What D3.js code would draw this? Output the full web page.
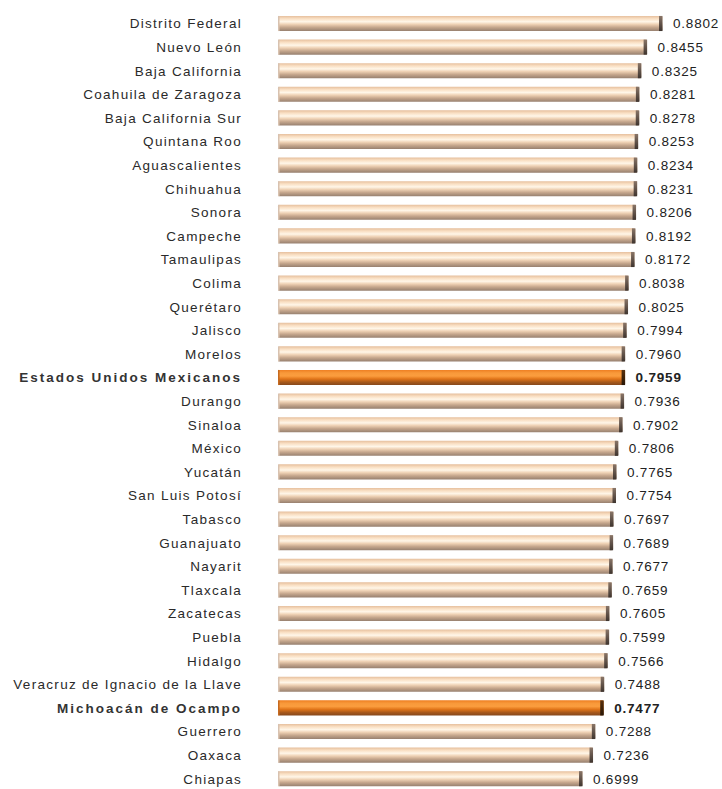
<!DOCTYPE html>
<html>
<head>
<meta charset="utf-8">
<script src="https://cdn.jsdelivr.net/npm/d3@7"></script>
<style>
  body { margin: 0; background: #fff; }
  svg text { font-family: "Liberation Sans", Arial, sans-serif; }
</style>
</head>
<body>
<svg id="container"></svg>
<script>
var states = ["Distrito Federal","Nuevo León","Baja California","Coahuila de Zaragoza","Baja California Sur",
  "Quintana Roo","Aguascalientes","Chihuahua","Sonora","Campeche","Tamaulipas","Colima","Querétaro",
  "Jalisco","Morelos","Estados Unidos Mexicanos","Durango","Sinaloa","México","Yucatán","San Luis Potosí",
  "Tabasco","Guanajuato","Nayarit","Tlaxcala","Zacatecas","Puebla","Hidalgo",
  "Veracruz de Ignacio de la Llave","Michoacán de Ocampo","Guerrero","Oaxaca","Chiapas"];
var values = [0.8802,0.8455,0.8325,0.8281,0.8278,0.8253,0.8234,0.8231,0.8206,0.8192,0.8172,0.8038,0.8025,
  0.7994,0.7960,0.7959,0.7936,0.7902,0.7806,0.7765,0.7754,0.7697,0.7689,0.7677,0.7659,0.7605,0.7599,
  0.7566,0.7488,0.7477,0.7288,0.7236,0.6999];
var highlighted = ["Estados Unidos Mexicanos","Michoacán de Ocampo"];

var data = states.map((s, i) => ({name: s, value: values[i], hi: highlighted.indexOf(s) >= 0}));

const W = 722, H = 789;
var svg = d3.select("#container").attr("width", W).attr("height", H);

// scales (bars are drawn from the left edge of the plot area)
var x = d3.scaleLinear().domain([0, 0.8802]).range([272, 662.5]);
var plotLeft = 278;
var y = d3.scaleBand().domain(states).range([11.7, 11.7 + 23.6 * states.length]).paddingInner(0.36).paddingOuter(0.18);

var defs = svg.append("defs");
function vGrad(id, stops) {
  var g = defs.append("linearGradient").attr("id", id).attr("x1", 0).attr("y1", 0).attr("x2", 0).attr("y2", 1);
  stops.forEach(s => g.append("stop").attr("offset", s[0]).attr("stop-color", s[1]));
}
vGrad("barTan", [[0, "#e6bf9d"], [0.18, "#f9dfc3"], [0.38, "#fff6e8"], [0.55, "#efd2b5"], [0.75, "#c6a78d"], [1, "#97806f"]]);
vGrad("barOrange", [[0, "#ee7f22"], [0.2, "#f8993a"], [0.4, "#fb9d3e"], [0.6, "#e07418"], [0.8, "#a8591b"], [1, "#86481c"]]);
vGrad("capTan", [[0, "#8a7668"], [0.4, "#6a5a50"], [1, "#3e342e"]]);
vGrad("capOrange", [[0, "#5a3210"], [0.5, "#3e2208"], [1, "#2a1808"]]);

var rows = svg.append("g").selectAll("g.row").data(data).enter().append("g").attr("class", "row");

// bars
rows.append("rect")
  .attr("x", plotLeft)
  .attr("y", d => y(d.name))
  .attr("width", d => x(d.value) - plotLeft)
  .attr("height", y.bandwidth())
  .attr("rx", 1.5)
  .attr("fill", d => d.hi ? "url(#barOrange)" : "url(#barTan)");

// left edge shading
rows.append("rect")
  .attr("x", plotLeft)
  .attr("y", d => y(d.name))
  .attr("width", 1.5)
  .attr("height", y.bandwidth())
  .attr("fill", d => d.hi ? "#c66a20" : "#d8c2b0");

// end cap
rows.append("rect")
  .attr("x", d => x(d.value) - 3.5)
  .attr("y", d => y(d.name))
  .attr("width", 3.5)
  .attr("height", y.bandwidth())
  .attr("fill", d => d.hi ? "url(#capOrange)" : "url(#capTan)");

// category labels
rows.append("text")
  .attr("x", 242)
  .attr("y", d => y(d.name) + y.bandwidth() / 2)
  .attr("dy", "0.36em")
  .attr("text-anchor", "end")
  .style("font-size", "13.5px")
  .style("font-weight", d => d.hi ? "bold" : "normal")
  .style("letter-spacing", d => d.hi ? "2px" : "1.3px")
  .attr("fill", d => d.hi ? "#333" : "#2a2a2a")
  .text(d => d.name);

// value labels
rows.append("text")
  .attr("x", d => x(d.value) + 10.5)
  .attr("y", d => y(d.name) + y.bandwidth() / 2)
  .attr("dy", "0.36em")
  .style("font-size", "13.5px")
  .style("letter-spacing", "0.8px")
  .style("font-weight", d => d.hi ? "bold" : "normal")
  .attr("fill", "#222")
  .text(d => d.value.toFixed(4));
</script>
</body>
</html>
